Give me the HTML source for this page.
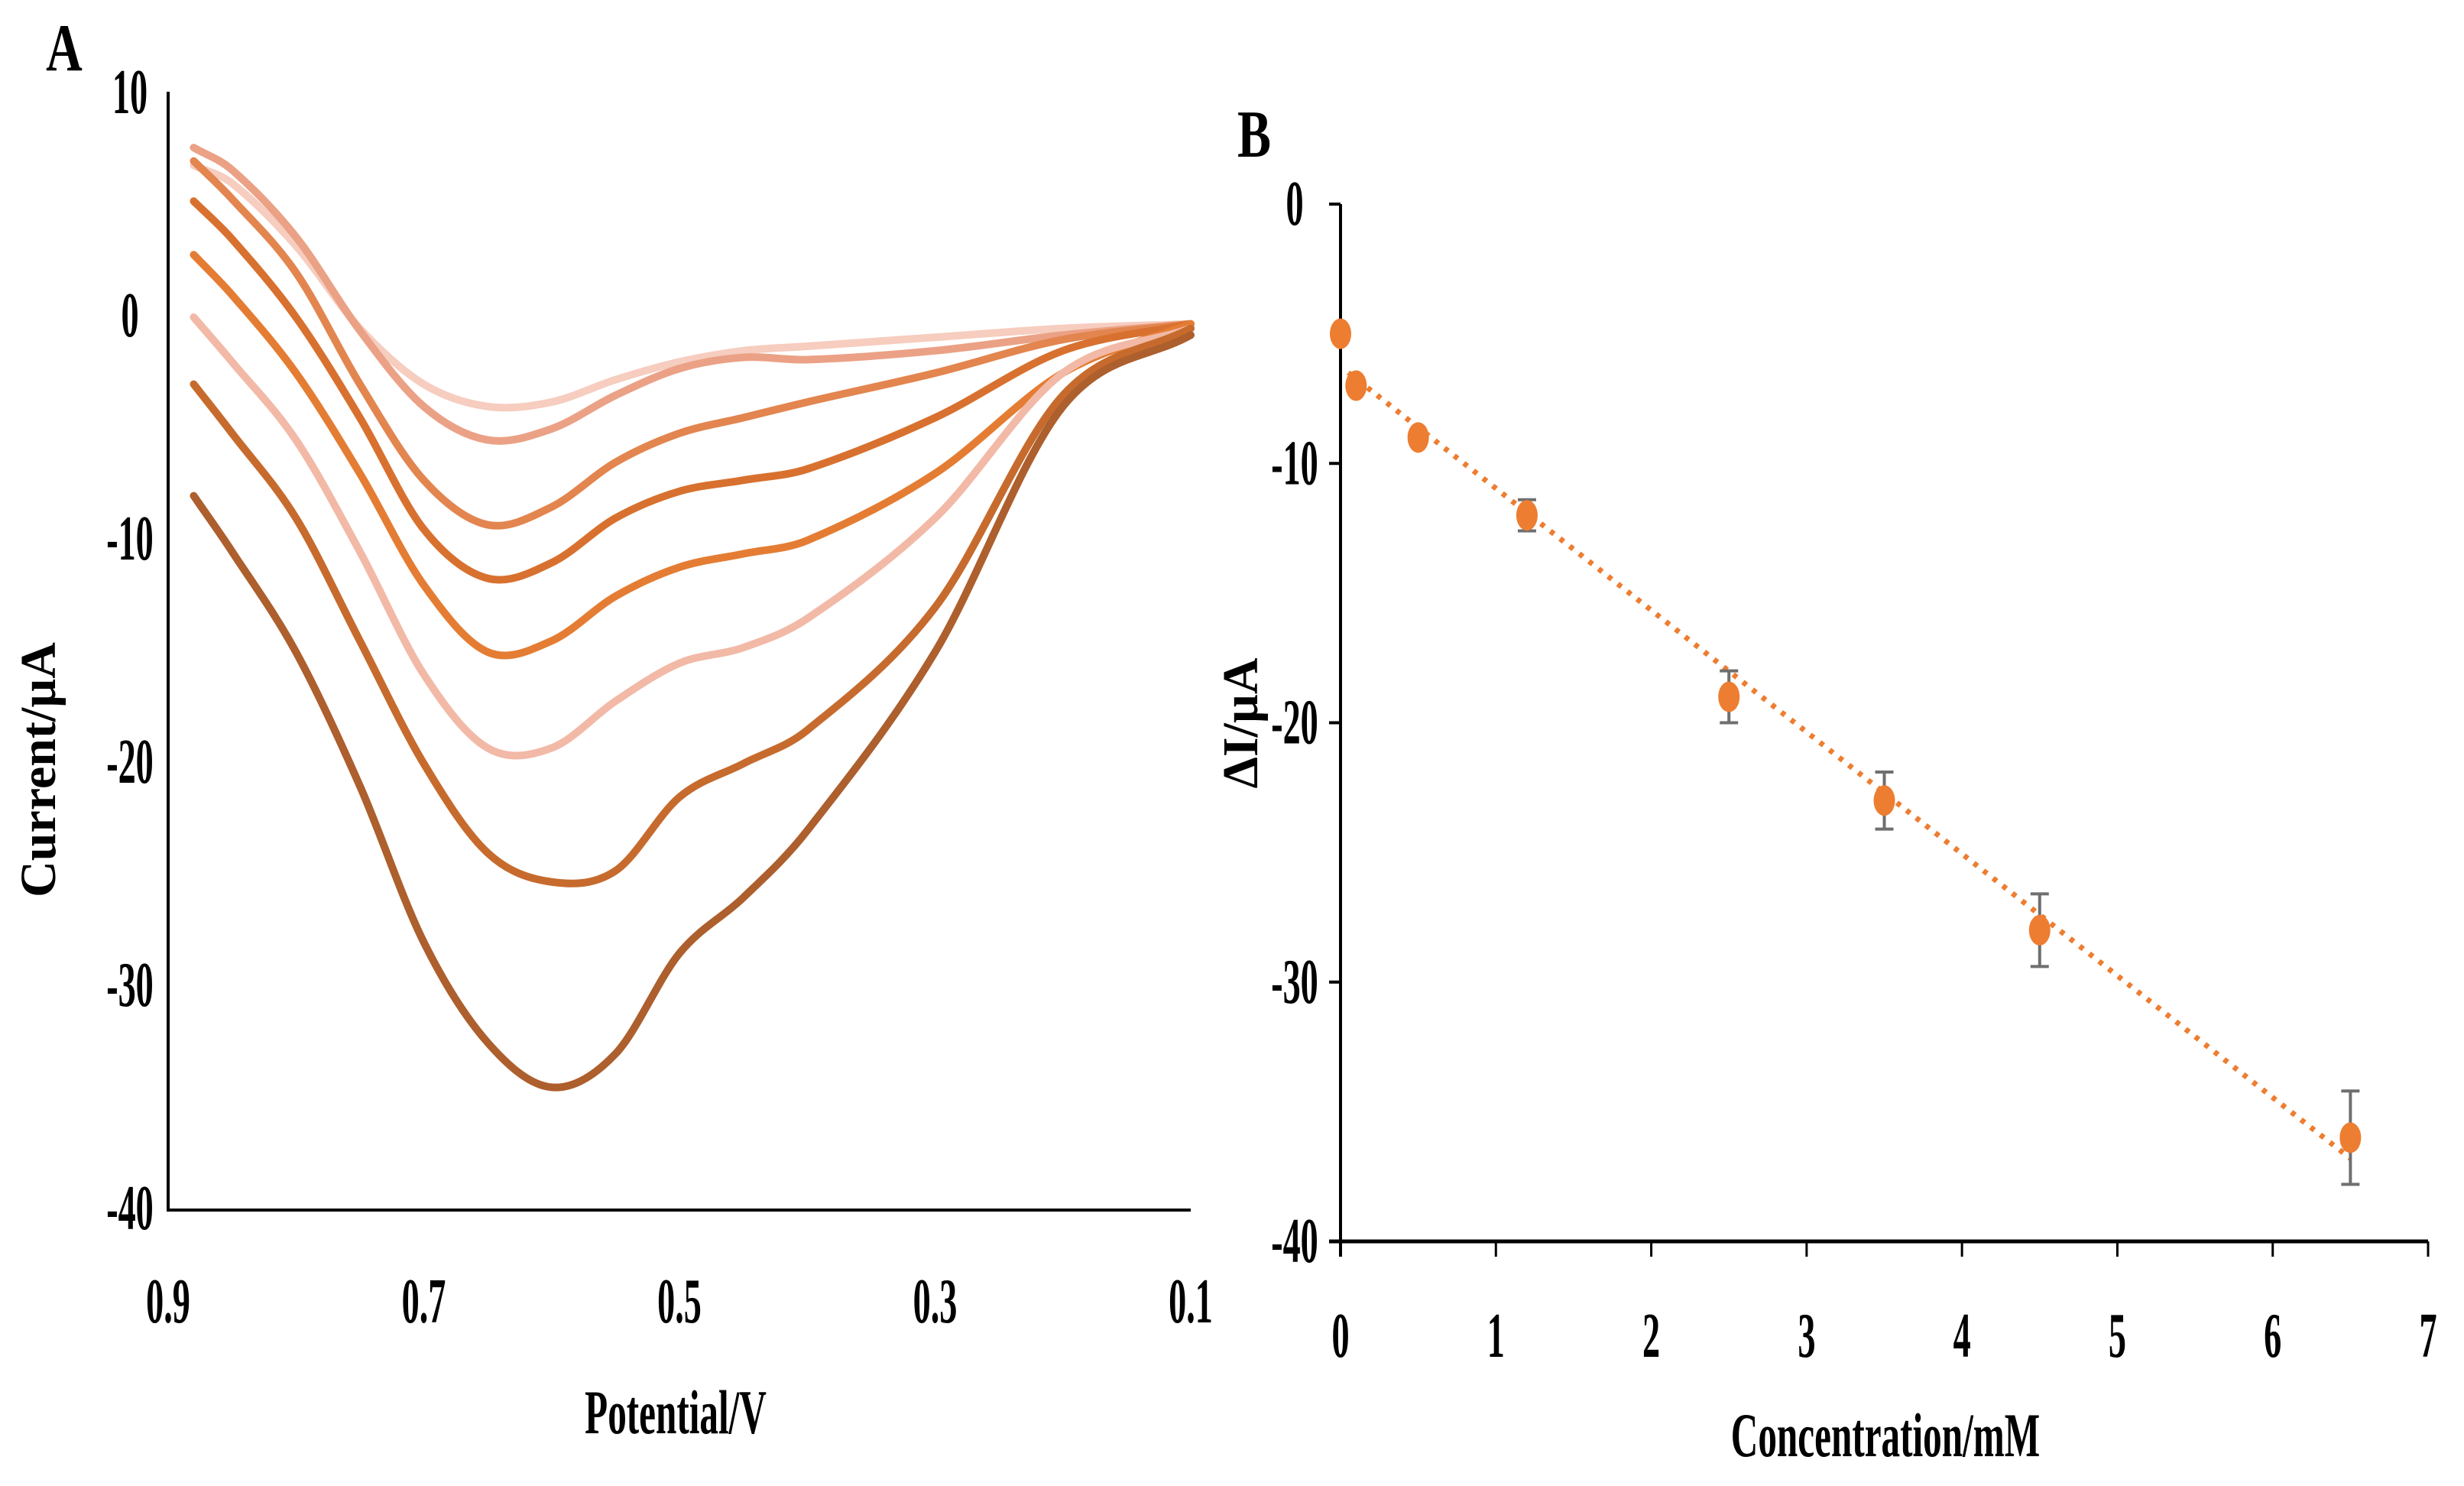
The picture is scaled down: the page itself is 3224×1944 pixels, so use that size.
<!DOCTYPE html>
<html><head><meta charset="utf-8"><style>
html,body{margin:0;padding:0;background:#fff;}
svg{display:block;}
text{font-family:"Liberation Serif",serif;fill:#000;}
</style></head><body>
<svg id="fig" width="3224" height="1944" viewBox="0 0 3224 1944" xmlns="http://www.w3.org/2000/svg">
<rect width="3224" height="1944" fill="#fff"/>
<g id="panelA"></g>
<g id="panelB"></g>
</svg>
<script>
// ---------- Panel A data ----------
const potentials = [0.88,0.85,0.8,0.75,0.7,0.65,0.6,0.55,0.5,0.45,0.4,0.3,0.2,0.1];
const curve1 = [6.8,6.0,3.2,-0.5,-3,-4,-3.8,-2.8,-2,-1.5,-1.3,-0.9,-0.5,-0.3];
const curve2 = [7.6,6.6,3.6,-0.6,-4,-5.5,-5,-3.5,-2.3,-1.8,-1.9,-1.5,-0.8,-0.3];
const curve3 = [7,5.3,2,-3,-7.3,-9.3,-8.5,-6.5,-5.2,-4.5,-3.8,-2.5,-1,-0.3];
const curve4 = [5.2,3.5,0,-4.5,-9.5,-11.7,-11,-9,-7.8,-7.3,-6.8,-4.5,-1.5,-0.3];
const curve5 = [2.8,1,-2.5,-7,-12,-15,-14.5,-12.5,-11.2,-10.6,-10,-7,-2.5,-0.3];
const curve6 = [0,-2,-5.5,-10.5,-16,-19.3,-19.3,-17.2,-15.5,-14.8,-13.5,-9,-2.5,-0.5];
const curve7 = [-3,-5.2,-9,-14.5,-20,-24,-25.3,-24.8,-21.5,-20,-18.5,-13,-3.5,-0.5];
const curve8 = [-8,-10.5,-15,-21,-28,-32.5,-34.5,-33,-28.5,-26,-23,-15,-4,-0.8];
const curvesA = [curve1,curve2,curve3,curve4,curve5,curve6,curve7,curve8];
const curveColors = ["#f6cdbf","#eba185","#e3854f","#d8712f","#e47d33","#f2b9a7","#c66b2d","#ad5f2d"];
const xTicksA = [0.9,0.7,0.5,0.3,0.1];
const yTicksA = [10,0,-10,-20,-30,-40];
// ---------- Panel B data ----------
const conc = [0,0.1,0.5,1.2,2.5,3.5,4.5,6.5];
const deltaI = [-5,-7,-9,-12,-19,-23,-28,-36];
const errB = [0,0,0,0.6,1,1.1,1.4,1.8];
const trendStart = [0.05,-6.5];
const trendEnd = [6.5,-36.8];
const xTicksB = [0,1,2,3,4,5,6,7];
const yTicksB = [0,-10,-20,-30,-40];

const NS="http://www.w3.org/2000/svg";
function mk(tag,attrs,parent){const e=document.createElementNS(NS,tag);for(const k in attrs)e.setAttribute(k,attrs[k]);parent.appendChild(e);return e;}
function condText(parent,x,y,str,size,sx,weight,anchor){
  const g=mk('g',{transform:`translate(${x},${y}) scale(${sx},1)`},parent);
  const t=mk('text',{x:0,y:0,'font-size':size,'text-anchor':anchor||'middle','font-weight':weight||'normal'},g);
  t.textContent=str;return t;
}
const ax={x0:220,x1:1558,y10:123,ym40:1583};
const xA=v=>ax.x0+(0.9-v)/0.8*(ax.x1-ax.x0);
const yA=v=>ax.y10+(10-v)/50*(ax.ym40-ax.y10);
const A=document.getElementById('panelA');
function smoothPath(pts){
  const n=pts.length, m=[];
  for(let i=0;i<n;i++){
    const a=pts[Math.max(0,i-1)], b=pts[Math.min(n-1,i+1)];
    m.push((b[1]-a[1])/(b[0]-a[0]));
  }
  let d=`M${pts[0][0]},${pts[0][1]}`;
  for(let i=0;i<n-1;i++){
    const p1=pts[i],p2=pts[i+1],dx=(p2[0]-p1[0])/3;
    d+=` C${p1[0]+dx},${p1[1]+m[i]*dx} ${p2[0]-dx},${p2[1]-m[i+1]*dx} ${p2[0]},${p2[1]}`;
  }
  return d;
}
curvesA.forEach((c,i)=>{
  const p=mk('path',{d:smoothPath(potentials.map((v,j)=>[xA(v),yA(c[j])])),fill:'none',stroke:curveColors[i],'stroke-width':10,'stroke-linecap':'round'},A);
  
  
});
let l=mk('line',{x1:ax.x0,y1:ax.y10-3,x2:ax.x0,y2:ax.ym40,stroke:'#000','stroke-width':4},A);

l=mk('line',{x1:ax.x0-2,y1:ax.ym40,x2:ax.x1,y2:ax.ym40,stroke:'#000','stroke-width':4},A);

yTicksA.forEach(v=>{const t=condText(A,ax.x0-50,yA(v)+25,String(v),84,0.55,'bold');});
xTicksA.forEach(v=>{const t=condText(A,xA(v),1730,v.toFixed(1),84,0.55,'bold');});
let t=condText(A,884,1875,'Potential/V',82,0.6,'bold');
t=mk('text',{x:0,y:0,'font-size':66,'font-weight':'bold','text-anchor':'middle',transform:'translate(72,1007) rotate(-90)'},A);t.textContent='Current/µA';

t=condText(A,84,92,'A',88,0.75,'bold');

const bx={x0:1754,x7:3177,y0:267,ym40:1624};
const xB=v=>bx.x0+v/7*(bx.x7-bx.x0);
const yB=v=>bx.y0+(-v)/40*(bx.ym40-bx.y0);
const B=document.getElementById('panelB');
l=mk('line',{x1:bx.x0,y1:bx.y0,x2:bx.x0,y2:bx.ym40+20,stroke:'#000','stroke-width':4},B);

l=mk('line',{x1:bx.x0-15,y1:bx.ym40,x2:bx.x7,y2:bx.ym40,stroke:'#000','stroke-width':5},B);

yTicksB.forEach(v=>{mk('line',{x1:bx.x0-15,y1:yB(v),x2:bx.x0,y2:yB(v),stroke:'#000','stroke-width':4},B);
  const tt=condText(B,bx.x0-60,yB(v)+27,String(v),84,0.55,'bold');});
xTicksB.forEach(v=>{mk('line',{x1:xB(v),y1:bx.ym40,x2:xB(v),y2:bx.ym40+20,stroke:'#000','stroke-width':3},B);
  const tt=condText(B,xB(v),1775,String(v),84,0.55,'bold');});
l=mk('line',{x1:xB(trendStart[0]),y1:yB(trendStart[1]),x2:xB(trendEnd[0]),y2:yB(trendEnd[1]),stroke:'#ed7d31','stroke-width':7,'stroke-dasharray':'6 10'},B);

conc.forEach((c,i)=>{
  if(errB[i]>0){
    const g=mk('g',{stroke:'#6f6f6f','stroke-width':4},B);
    
    const yt=yB(deltaI[i]+errB[i]),yb=yB(deltaI[i]-errB[i]),x=xB(c);
    mk('line',{x1:x,y1:yt,x2:x,y2:yb},g);mk('line',{x1:x-12,y1:yt,x2:x+12,y2:yt},g);mk('line',{x1:x-12,y1:yb,x2:x+12,y2:yb},g);
  }
  const e=mk('ellipse',{cx:xB(c),cy:yB(deltaI[i]),rx:14,ry:20,fill:'#ed7d31'},B);
  
  
});
t=condText(B,2467,1905,'Concentration/mM',82,0.6,'bold');
t=mk('text',{x:0,y:0,'font-size':66,'font-weight':'bold','text-anchor':'middle',transform:'translate(1645,946) rotate(-90)'},B);t.textContent='ΔI/µA';

t=condText(B,1641,205,'B',88,0.75,'bold');
</script>
</body></html>
